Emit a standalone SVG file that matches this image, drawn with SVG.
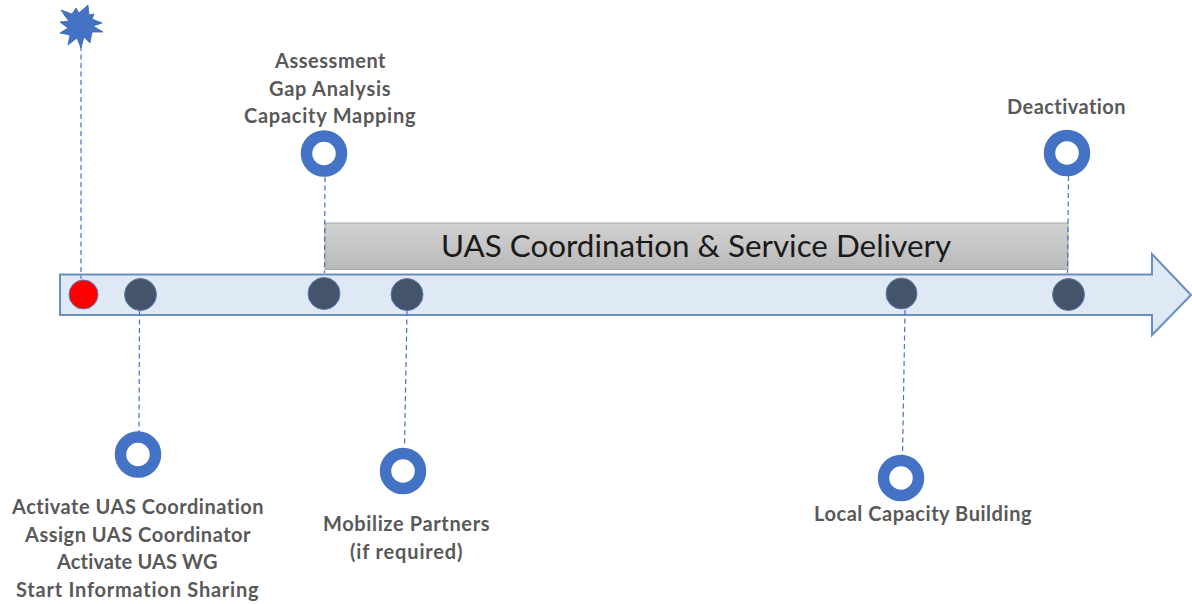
<svg xmlns="http://www.w3.org/2000/svg" width="1192" height="604" viewBox="0 0 1192 604">
<style>
.lbl{font-family:"Lato","Liberation Sans",sans-serif;font-weight:700;font-size:20px;letter-spacing:.48px;fill:#595959;text-anchor:middle}
.ring{fill:#fff;stroke:#4472c4;stroke-width:11.5}
.dot{fill:#44546a;stroke:#5b7bb5;stroke-width:1}
.conn{fill:none;stroke:#4472c4;stroke-width:1.2;stroke-dasharray:5 3.5}
</style>
<defs>
<linearGradient id="g" x1="0" y1="0" x2="0" y2="1"><stop offset="0" stop-color="#d2d2d2"/><stop offset="1" stop-color="#b9b9b9"/></linearGradient>
</defs>
<g id="timeline-arrow"><polygon points="60,274.500 1152,274.500 1152,254 1191,295 1152,335 1152,315 60,315" fill="#dee9f5" stroke="#6c8ebf" stroke-width="2"/></g>
<g id="service-bar"><rect x="325" y="223" width="743" height="46.500" fill="url(#g)" stroke="#a8a8a8" stroke-width="1"/>
<text x="696" y="257" font-family="Lato,'Liberation Sans',sans-serif" font-size="31.400" fill="#1a1a1a" text-anchor="middle">UAS Coordination &amp; Service Delivery</text></g>
<g id="connectors">
<path class="conn" d="M81 46V279"/>
<path class="conn" d="M139.500 311L139 432"/>
<path class="conn" d="M325 177L324.500 273"/>
<path class="conn" d="M407 311L404.500 447"/>
<path class="conn" d="M905 310L902.500 456"/>
<path class="conn" d="M1068.500 176L1067.500 273"/>
</g>
<g id="start-burst"><polygon points="61,10 72,14 76,8 79,13 88,5 89,15 94,14 92,19 102,23 93,26 103,32 92,32 90,43 84,37 81,48 77,38 68,45 70,35 60,33 68,28 60,22 69,21 65,16" fill="#4472c4" stroke="#3a64b0" stroke-width="0.800"/></g>
<g id="start-dot"><circle cx="83.500" cy="294.500" r="14.500" fill="#ff0000" stroke="#5b7bb5" stroke-width="1"/></g>
<g id="dot-1"><circle class="dot" cx="140.500" cy="294.500" r="16"/></g>
<g id="dot-2"><circle class="dot" cx="324" cy="293.500" r="16"/></g>
<g id="dot-3"><circle class="dot" cx="407" cy="294.500" r="16"/></g>
<g id="dot-4"><circle class="dot" cx="901.500" cy="293.500" r="15.500"/></g>
<g id="dot-5"><circle class="dot" cx="1068.500" cy="294.500" r="16"/></g>
<g id="assessment"><circle class="ring" cx="324" cy="153.500" r="17.500"/>
<text class="lbl" x="330.500" y="67.500" textLength="111">Assessment</text><text class="lbl" x="330" y="95.500" textLength="122">Gap Analysis</text><text class="lbl" x="330" y="122.500" textLength="172">Capacity Mapping</text></g>
<g id="deactivation"><circle class="ring" cx="1067" cy="153" r="17.500"/>
<text class="lbl" x="1066.500" y="113.500" textLength="119">Deactivation</text></g>
<g id="activate"><circle class="ring" cx="138" cy="454.500" r="17.500"/>
<text class="lbl" x="138" y="513.500" textLength="252">Activate UAS Coordination</text><text class="lbl" x="138" y="541.500" textLength="226">Assign UAS Coordinator</text><text class="lbl" x="137.500" y="568.500" textLength="161">Activate UAS WG</text><text class="lbl" x="137.500" y="596.500" textLength="243">Start Information Sharing</text></g>
<g id="mobilize"><circle class="ring" cx="403" cy="471" r="17.500"/>
<text class="lbl" x="406.500" y="530.500" textLength="167">Mobilize Partners</text><text class="lbl" x="406.500" y="558.500" textLength="113">(if required)</text></g>
<g id="capacity"><circle class="ring" cx="901" cy="478" r="17.500"/>
<text class="lbl" x="923" y="520.500" textLength="218">Local Capacity Building</text></g>
</svg>
